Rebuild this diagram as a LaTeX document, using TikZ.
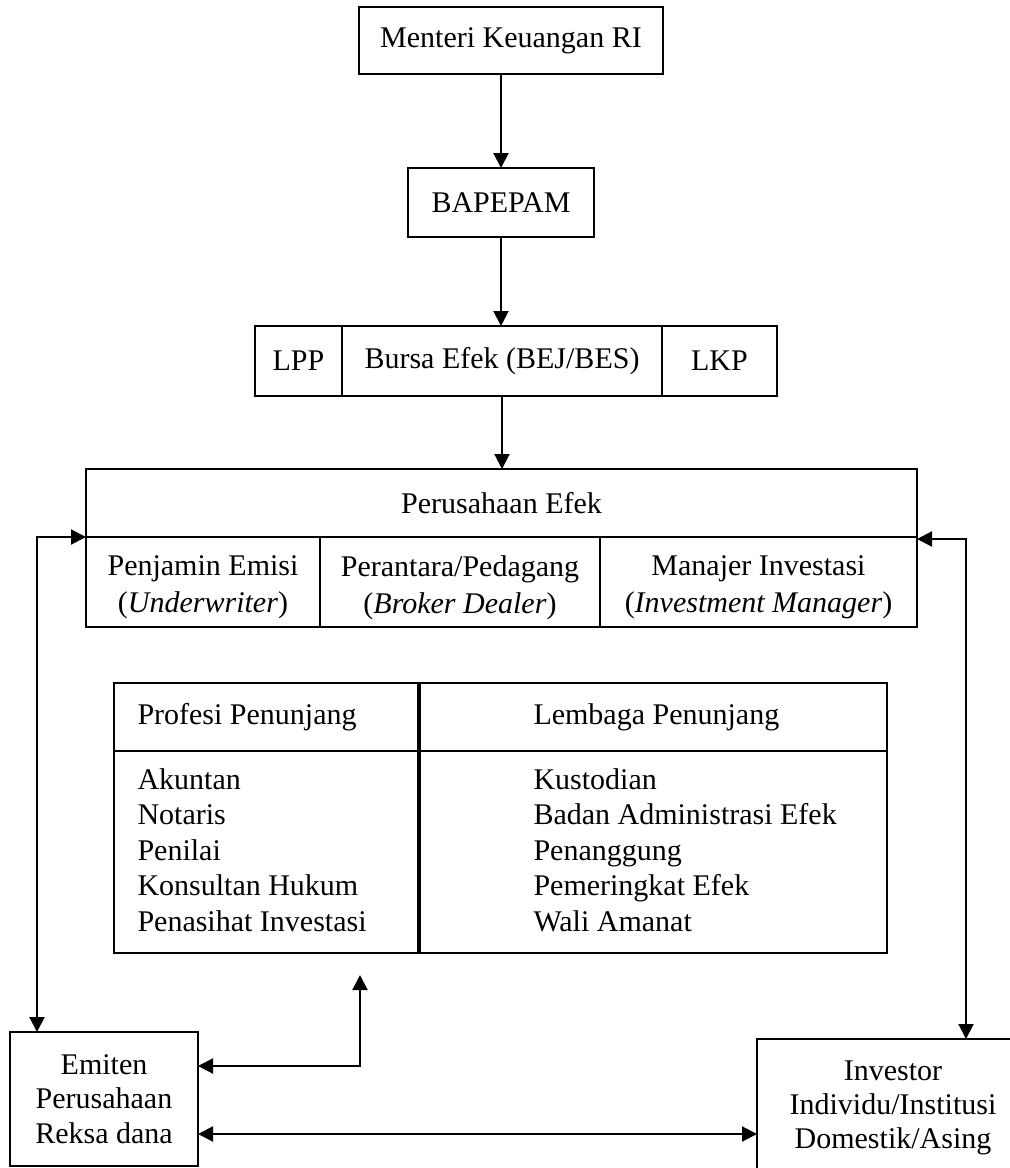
\documentclass[tikz,border=0pt]{standalone}
\usepackage{fontspec}
\setmainfont{Liberation Serif}
\usepackage{tikz}
\usetikzlibrary{arrows.meta, positioning, calc}
\newdimen\pxu
\pxu=0.4pt

\begin{document}
\begin{tikzpicture}[x=0.4pt, y=-0.4pt,
	box/.style={draw, line width=0.8pt, inner sep=0pt, outer sep=0pt, align=center, font=\fontsize{12}{14.8}\selectfont},
	txt/.style={inner sep=0pt, anchor=west, align=left, font=\fontsize{12}{14.2}\selectfont},
	ctxt/.style={inner sep=0pt, align=center, font=\fontsize{12}{14.8}\selectfont},
	link/.style={line width=0.8pt, -{Triangle[length=6pt, width=6pt]}},
	dlink/.style={line width=0.8pt, {Triangle[length=6pt, width=6pt]}-{Triangle[length=6pt, width=6pt]}}]

	\useasboundingbox (0,0) rectangle (1009,1168);

	% pengawas
	\node[box, minimum width=304\pxu, minimum height=67\pxu] (menteri) at (511,40.5) {Menteri Keuangan RI};
	\node[box, minimum width=186\pxu, minimum height=69\pxu] (bapepam) at (501,202.5) {BAPEPAM};

	% bursa
	\node[box, minimum width=320\pxu, minimum height=70\pxu] (bursa) at (502,361) {Bursa Efek (BEJ/BES)};
	\node[box, minimum width=87\pxu, minimum height=70\pxu, left=0pt of bursa] (lpp) {LPP};
	\node[box, minimum width=115\pxu, minimum height=70\pxu, right=0pt of bursa] (lkp) {LKP};

	% perusahaan efek
	\node[box, minimum width=831\pxu, minimum height=68\pxu] (pehead) at (501.5,503) {Perusahaan Efek};
	\node[box, minimum width=234\pxu, minimum height=90\pxu] (penjamin) at (203,582) {};
	\node[box, minimum width=280\pxu, minimum height=90\pxu] (perantara) at (460,582) {};
	\node[box, minimum width=317\pxu, minimum height=90\pxu] (manajer) at (758.5,582) {};
	\node[ctxt] (penjamintext) at (203,587.5) {Penjamin Emisi\\(\textit{Underwriter})};
	\node[ctxt] (perantaratext) at (460,587.5) {Perantara/Pedagang\\(\textit{Broker Dealer})};
	\node[ctxt] (manajertext) at (758.5,587.5) {Manajer Investasi\\(\textit{Investment Manager})};

	% penunjang
	\node[box, minimum width=305\pxu, minimum height=68\pxu] (profhead) at (266.5,717) {};
	\node[box, minimum width=468\pxu, minimum height=68\pxu] (lemhead) at (653,717) {};
	\node[box, minimum width=305\pxu, minimum height=202\pxu] (profbody) at (266.5,852) {};
	\node[box, minimum width=468\pxu, minimum height=202\pxu] (lembody) at (653,852) {};
	\draw[line width=1.6pt] (profhead.north east) -- (profbody.south east);

	\node[txt] (proftitle) at (137,717) {Profesi Penunjang};
	\node[txt] (lemtitle) at (533,717) {Lembaga Penunjang};
	\node[txt] (proflist) at (137,850) {Akuntan\\Notaris\\Penilai\\Konsultan Hukum\\Penasihat Investasi};
	\node[txt] (lemlist) at (533,850) {Kustodian\\Badan Administrasi Efek\\Penanggung\\Pemeringkat Efek\\Wali Amanat};

	% pelaku
	\node[box, minimum width=188\pxu, minimum height=134\pxu, font=\fontsize{12}{13.8}\selectfont] (emiten) at (104,1099) {Emiten\\Perusahaan\\Reksa dana};
	\node[box, minimum width=272\pxu, minimum height=138\pxu, font=\fontsize{12}{13.6}\selectfont] (investor) at (893,1108) {Investor\\Individu/Institusi\\Domestik/Asing};

	\coordinate (lcorner) at (37,537);
	\coordinate (rcorner) at (966,539);
	\coordinate (pjoint) at (360,1066);
	\coordinate (ptip) at (360,975);
	\coordinate (bline) at (480,1134);

	\draw[link] (bapepam.north |- menteri.south) -- (bapepam.north);
	\draw[link] (bapepam.south) -- (bapepam.south |- bursa.north);
	\draw[link] (bursa.south) -- (bursa.south |- pehead.north);

	\draw[dlink] (penjamin.north west) -- (penjamin.north west -| lcorner) -- (lcorner |- emiten.north);
	\draw[dlink] (rcorner -| manajer.east) -- (rcorner) -- (rcorner |- investor.north);
	\draw[dlink] (ptip) -- (pjoint) -- (pjoint -| emiten.east);
	\draw[dlink] (bline -| emiten.east) -- (bline -| investor.west);

\end{tikzpicture}
\end{document}
